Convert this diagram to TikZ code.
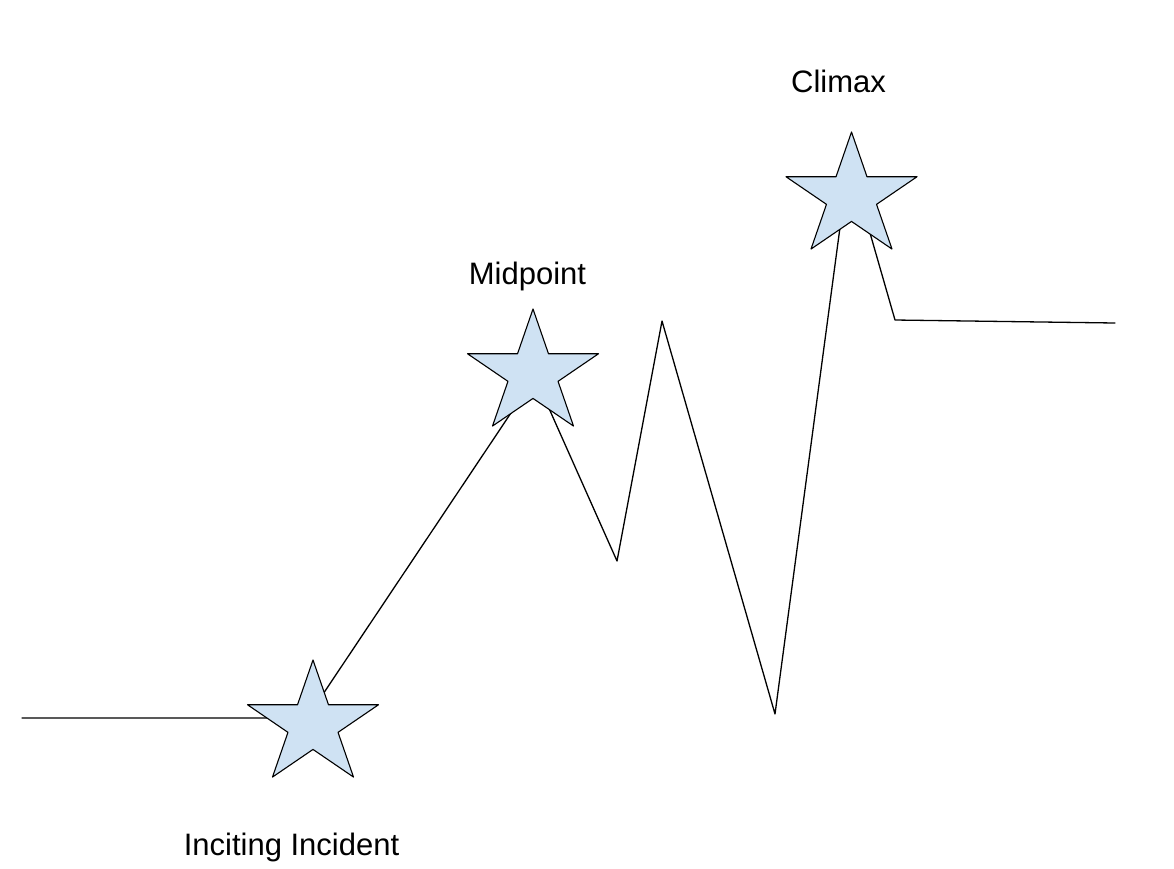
\documentclass[tikz,border=0pt]{standalone}
\usepackage{fontspec}
\setmainfont{Liberation Sans}
\usetikzlibrary{shapes.geometric}
\definecolor{starfill}{RGB}{207,226,243}
\tikzset{
    lab/.style={
        font=\fontsize{31}{37}\selectfont, anchor=base, inner sep=0pt
    }
}

\begin{document}
\begin{tikzpicture}[x=1pt,y=-1pt, line cap=round, line join=round]

% plot line + star styles
\tikzset{
  main/.style={draw=black, line width=1.3pt},
  starmark/.style={star, star points=5, star point ratio=2.618, draw=black, fill=starfill,
    line width=1.1pt, minimum size=129.4pt, inner sep=0pt, xscale=1.065},
}

  \useasboundingbox (0,0) rectangle (1174,868);

  % turning points of the plot line
  \coordinate (start) at (22,718);
  \coordinate (A) at (307,718);
  \coordinate (B) at (535,377);
  \coordinate (C) at (617,561);
  \coordinate (D) at (662,321);
  \coordinate (E) at (775,714);
  \coordinate (F) at (849,160);
  \coordinate (G) at (895,320);
  \coordinate (finish) at (1115,323);

  % plot line
  \draw[main] (start) -- (A) -- (B) -- (C) -- (D) -- (E) -- (F) -- (G) -- (finish);

  % stars
  \node[starmark] (incite) at (313,724.7) {};
  \node[starmark] (mid) at (533,373.7) {};
  \node[starmark] (climax) at (851.5,196.7) {};

  % labels
  \node[lab] (incitelab) at (291.5,855) {Inciting Incident};
  \node[lab] (midlab) at (527.5,284) {Midpoint};
  \node[lab] (climaxlab) at (838.5,92) {Climax};

\end{tikzpicture}
\end{document}
